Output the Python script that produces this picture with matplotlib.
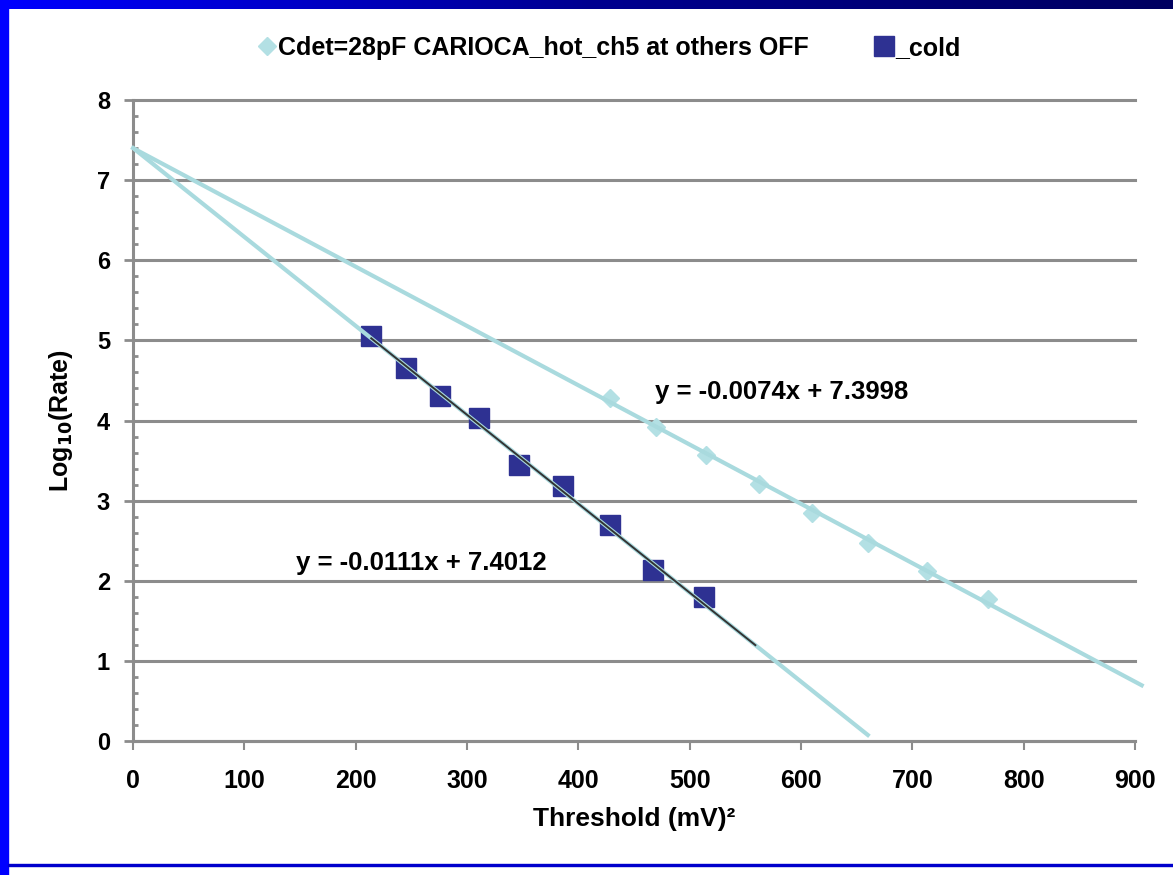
import matplotlib.pyplot as plt
import numpy as np
from matplotlib.colors import LinearSegmentedColormap
from matplotlib.lines import Line2D
from matplotlib.patches import Rectangle

plt.rcParams['font.family'] = ['Liberation Sans', 'DejaVu Sans']

# data
hot_threshold = [428, 470, 515, 562, 610, 660, 713, 768]
hot_log_rate = [4.28, 3.92, 3.57, 3.21, 2.84, 2.47, 2.12, 1.77]
cold_threshold = [214, 245, 276, 311, 347, 386, 428, 467, 513]
cold_log_rate = [5.05, 4.65, 4.30, 4.03, 3.44, 3.18, 2.69, 2.13, 1.80]

hot_fit = (-0.0074, 7.3998)
cold_fit = (-0.0111, 7.4012)
hot_fit_range = (0, 906)
cold_fit_range = (0, 660)
cold_fit_short = (214, 559)

hot_label = "Cdet=28pF CARIOCA_hot_ch5 at others OFF"
cold_label = "_cold"
x_ticks = list(range(0, 901, 100))
y_ticks = list(range(0, 9))

hot_color = "#b3e0e4"
fit_color = "#a9dade"
cold_color = "#2e3192"
grid_color = "#8c8c8c"

fig = plt.figure(figsize=(11.73, 8.75), dpi=100)
ax = fig.add_axes([133 / 1173, 134 / 875, 1002 / 1173, 641 / 875])

ax.plot(hot_threshold, hot_log_rate, linestyle="none", marker="D", markersize=9,
        color=hot_color, zorder=3)
ax.plot(cold_threshold, cold_log_rate, linestyle="none", marker="s", markersize=15,
        color=cold_color, zorder=3)

# trend lines
xs = np.array(hot_fit_range)
ax.plot(xs, hot_fit[0] * xs + hot_fit[1], color=fit_color, lw=3, zorder=4, clip_on=False)
xs = np.array(cold_fit_range)
ax.plot(xs, cold_fit[0] * xs + cold_fit[1], color=fit_color, lw=3, zorder=4)
xs = np.array(cold_fit_short)
ax.plot(xs, cold_fit[0] * xs + cold_fit[1], color="#333333", lw=1.4, zorder=5)

ax.text(583, 4.36, "y = -0.0074x + 7.3998", fontsize=18.5, fontweight="bold",
        ha="center", va="center", zorder=6)
ax.text(259, 2.22, "y = -0.0111x + 7.4012", fontsize=18.5, fontweight="bold",
        ha="center", va="center", zorder=6)

ax.set_xlim(0, 900)
ax.set_ylim(0, 8)
ax.set_xticks(x_ticks)
ax.set_yticks(y_ticks)
ax.set_yticks(np.arange(0, 8.01, 0.2), minor=True)
ax.tick_params(axis="y", which="major", direction="out", length=6.5, width=2,
               color=grid_color, labelsize=17, pad=10)
ax.tick_params(axis="y", which="minor", direction="in", length=3.5, width=2,
               color=grid_color)
ax.tick_params(axis="x", which="major", direction="out", length=6.5, width=1.5,
               color=grid_color, labelsize=18, pad=14)
for lab in ax.get_xticklabels() + ax.get_yticklabels():
    lab.set_fontweight("bold")

ax.yaxis.grid(True, color=grid_color, linewidth=2.2)
for gl in ax.get_ygridlines():
    gl.set_clip_on(False)
ax.set_axisbelow(True)
for side in ["top", "right"]:
    ax.spines[side].set_visible(False)
for side in ["left", "bottom"]:
    ax.spines[side].set_color(grid_color)
    ax.spines[side].set_linewidth(2.2)

ax.set_xlabel("Threshold (mV)²", fontsize=19, fontweight="bold", labelpad=10)
ax.set_ylabel("Log$_{\\mathbf{10}}$(Rate)", fontsize=18, fontweight="bold", labelpad=16)

handles = [
    Line2D([], [], linestyle="none", marker="D", markersize=9, color=hot_color),
    Line2D([], [], linestyle="none", marker="s", markersize=15, color=cold_color),
]
fig.legend(handles, [hot_label, cold_label], loc="center", bbox_to_anchor=(0.519, 1 - 48 / 875),
           ncol=2, frameon=False, prop={"weight": "bold", "size": 18},
           handletextpad=0.05, columnspacing=2.6, handlelength=0.8)

# blue slide frame
grad = np.linspace(0, 1, 256).reshape(1, -1)
top = fig.add_axes([0, 1 - 9 / 875, 1, 9 / 875])
top.imshow(grad, aspect="auto",
           cmap=LinearSegmentedColormap.from_list("bar", ["#0000ff", "#000090", "#000060"]))
top.axis("off")
fig.patches.append(Rectangle((0, 0), 8 / 1173, 1, transform=fig.transFigure,
                             color="#0000ff", zorder=10))
fig.patches.append(Rectangle((8 / 1173, 1 - 866 / 875), 1, 2 / 875, transform=fig.transFigure,
                             color="#0000cc", zorder=10))

plt.savefig("out.png", dpi=100)
